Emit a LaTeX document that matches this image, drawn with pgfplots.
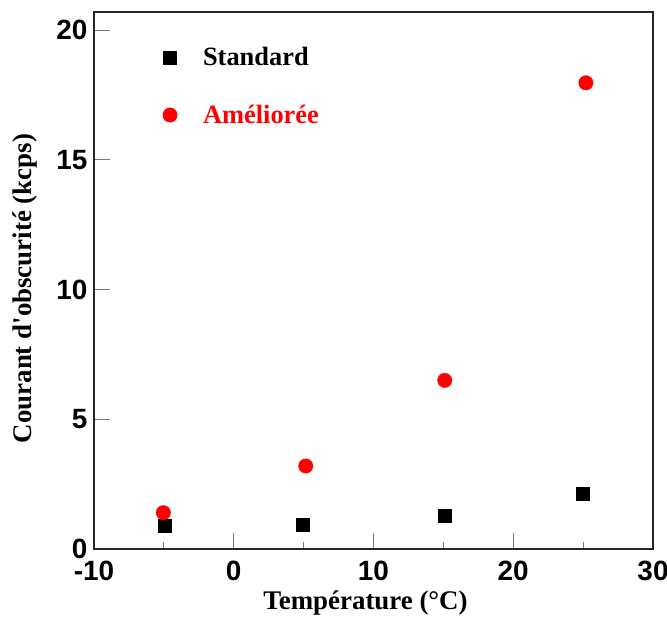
\documentclass[border=0pt]{standalone}
\usepackage{pgfplots}
\pgfplotsset{compat=1.18}
\usepackage{fontspec}
\setmainfont{Liberation Serif}
\newfontfamily\ticksans{Liberation Sans}
\definecolor{ptred}{RGB}{255,0,0}
\definecolor{tickgray}{RGB}{120,120,120}
\begin{document}
\begin{tikzpicture}
\begin{axis}[name=ax,
  scale only axis, width=559bp, height=537bp,
  xmin=-10, xmax=30, ymin=0, ymax=20.7,
  xtick={-10,0,10,20,30}, ytick={0,5,10,15,20},
  minor xtick={-5,5,15,25},
  tick align=inside,
  xtick pos=bottom, ytick pos=left,
  major tick length=16bp, minor tick length=7bp,
  tick style={tickgray, line width=1.2bp},
  axis line style={line width=1.6bp, black!85},
  /pgf/number format/assume math mode=true,
  ticklabel style={font=\ticksans\bfseries\fontsize{28}{28}\selectfont},
  xticklabel style={yshift=-9bp},
  yticklabel style={xshift=-3bp},
  label style={font=\bfseries\fontsize{27}{30}\selectfont},
  xlabel={Température (°C)},
  ylabel={Courant d\textquotesingle obscurité (kcps)},
  ylabel shift=12bp,
  xlabel shift=3bp,
  xlabel style={xshift=-8bp},
  ylabel style={xshift=-8bp},
  legend style={draw=none, fill=none, at={(axis cs:-5.3,19.5)}, anchor=north west,
    font=\bfseries\fontsize{26.5}{30}\selectfont, row sep=34bp, cells={anchor=west}},
  legend image code/.code={\path[draw=none,fill=none] (-7bp,-7bp) rectangle (31bp,7bp); \draw[#1] plot coordinates {(0bp,0bp)};},
]
\addplot[only marks, mark=square*, mark size=6.5bp, color=black] coordinates {
  (-4.97,0.88) (4.9,0.95) (15.1,1.28) (25.0,2.14)
};
\addlegendentry{Standard}
\addplot[only marks, mark=*, mark size=7.2bp, color=ptred] coordinates {
  (-5.04,1.40) (5.15,3.20) (15.1,6.50) (25.2,17.97)
};
\addlegendentry{\textcolor{ptred}{Améliorée}}
\end{axis}
\pgfresetboundingbox
\path ([shift={(-94bp,-69bp)}]ax.south west) rectangle ([shift={(14bp,12bp)}]ax.north east);
\end{tikzpicture}
\end{document}
